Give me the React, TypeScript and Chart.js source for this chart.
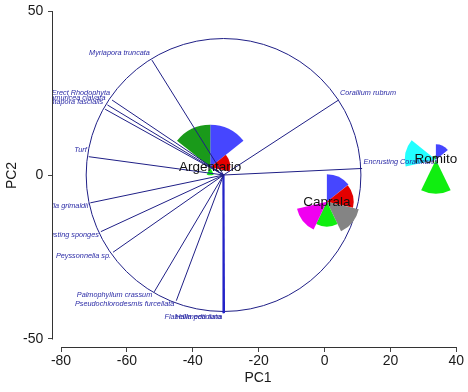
import { useEffect, useRef } from "react";
import { Chart, registerables } from "chart.js";

Chart.register(...registerables);

// ---- axes ----
const xTickValues = [-80, -60, -40, -20, 0, 20, 40];
const yTickValues = [-50, 0, 50];
const xAxisTitle = "PC1";
const yAxisTitle = "PC2";

// ---- biplot (correlation circle) ----
const biplotOrigin = [-30.66, 0.0];
const circleRadius = 41.7;
const speciesNames = [
  "Myriapora truncata",
  "Erect Rhodophyta",
  "Paramuricea clavata",
  "Pentapora fascialis",
  "Turf",
  "Reteporella grimaldii",
  "Encrusting sponges",
  "Peyssonnelia sp.",
  "Palmophyllum crassum",
  "Pseudochlorodesmis furcellata",
  "Flabellia petiolata",
  "Halimeda tuna",
  "Corallium rubrum",
  "Encrusting Corallinales",
];
const loadingX = [-52.4, -64.5, -65.9, -66.6, -71.6, -71.1, -67.9, -64.2, -51.7, -45.0, -30.75, -30.45, 4.25, 11.4];
const loadingY = [35.1, 22.9, 21.4, 20.1, 5.6, -8.5, -17.3, -23.6, -35.7, -38.4, -42.2, -42.2, 22.9, 2.0];

// ---- sites (segment glyphs) ----
const siteNames = ["Argentario", "Caprala", "Romito"];
const siteX = [-34.7, 0.7, 33.8];
const siteY = [2.4, -8.2, 4.7];
const glyphMaxRadius = 12.9;
const segBlue = [1.0, 0.65, 0.36];
const segRed = [0.47, 0.63, 0];
const segGray = [0, 0.77, 0];
const segLime = [0.19, 0.58, 0.8];
const segMagenta = [0, 0.72, 0];
const segCyan = [0, 0, 0.73];
const segGreen = [1.0, 0, 0.1];
const segmentValues = [segBlue, segRed, segGray, segLime, segMagenta, segCyan, segGreen];
const segmentColors = ["#4646ff", "#e40000", "#848484", "#10ee10", "#f000f0", "#22ffff", "#1a9a1a"];

const FONT = "'Liberation Sans', Arial, Helvetica, sans-serif";
const NAVY = "#1f1f86";
const LABEL_BLUE = "#2b2ba6";

export default function App() {
  const ref = useRef<HTMLCanvasElement>(null);

  useEffect(() => {
    document.body.style.margin = "0";
    const canvas = ref.current;
    if (!canvas) return;

    const biplotPlugin = {
      id: "biplotGlyphs",
      beforeDatasetsDraw(chart: any) {
        const { ctx, chartArea, scales } = chart;
        const x = scales.x;
        const y = scales.y;
        ctx.save();
        ctx.beginPath();
        ctx.rect(chartArea.left, chartArea.top, chartArea.right - chartArea.left, chartArea.bottom - chartArea.top);
        ctx.clip();
        // circle
        const cx = x.getPixelForValue(biplotOrigin[0]);
        const cy = y.getPixelForValue(biplotOrigin[1]);
        const rx = Math.abs(x.getPixelForValue(biplotOrigin[0] + circleRadius) - cx);
        const ry = Math.abs(y.getPixelForValue(biplotOrigin[1] + circleRadius) - cy);
        ctx.beginPath();
        ctx.ellipse(cx, cy, rx, ry, 0, 0, Math.PI * 2);
        ctx.strokeStyle = NAVY;
        ctx.lineWidth = 1;
        ctx.stroke();
        // glyphs
        const unit = Math.abs(x.getPixelForValue(glyphMaxRadius) - x.getPixelForValue(0));
        const n = segmentValues.length;
        const step = 360 / n;
        for (let i = 0; i < siteNames.length; i++) {
          const px = x.getPixelForValue(siteX[i]);
          const py = y.getPixelForValue(siteY[i]);
          for (let k = 0; k < n; k++) {
            const v = segmentValues[k][i];
            if (!v) continue;
            const r = v * unit;
            const a0 = ((90 - k * step) * Math.PI) / 180;
            const a1 = ((90 - (k + 1) * step) * Math.PI) / 180;
            ctx.beginPath();
            ctx.moveTo(px, py);
            ctx.arc(px, py, r, -a0, -a1, false);
            ctx.closePath();
            ctx.fillStyle = segmentColors[k];
            ctx.fill();
          }
        }
        ctx.restore();
      },
      afterDatasetsDraw(chart: any) {
        const { ctx, chartArea, scales } = chart;
        const x = scales.x;
        const y = scales.y;
        ctx.save();
        ctx.beginPath();
        ctx.rect(chartArea.left, chartArea.top, chartArea.right - chartArea.left, chartArea.bottom - chartArea.top);
        ctx.clip();
        const cx = x.getPixelForValue(biplotOrigin[0]);
        const cy = y.getPixelForValue(biplotOrigin[1]);
        ctx.font = `italic 7.3px ${FONT}`;
        ctx.fillStyle = LABEL_BLUE;
        ctx.textBaseline = "middle";
        for (let i = 0; i < speciesNames.length; i++) {
          const px = x.getPixelForValue(loadingX[i]);
          const py = y.getPixelForValue(loadingY[i]);
          const left = px - cx < 3;
          const ty = py < cy ? py - 7 : py + 3.5;
          if (left) {
            ctx.textAlign = "right";
            ctx.fillText(speciesNames[i], px - 2, ty);
          } else {
            ctx.textAlign = "left";
            ctx.fillText(speciesNames[i], px + 1.5, ty);
          }
        }
        // site labels
        ctx.font = `13.5px ${FONT}`;
        ctx.fillStyle = "#111";
        ctx.textAlign = "center";
        ctx.textBaseline = "middle";
        for (let i = 0; i < siteNames.length; i++) {
          ctx.fillText(siteNames[i], x.getPixelForValue(siteX[i]), y.getPixelForValue(siteY[i]));
        }
        ctx.restore();
      },
      afterDraw(chart: any) {
        const { ctx, chartArea, scales } = chart;
        const x = scales.x;
        const y = scales.y;
        ctx.save();
        ctx.strokeStyle = "#333";
        ctx.lineWidth = 1;
        const by = Math.round(chartArea.bottom) + 0.5;
        ctx.beginPath();
        ctx.moveTo(Math.round(x.getPixelForValue(xTickValues[0])) + 0.5, by);
        ctx.lineTo(Math.round(x.getPixelForValue(xTickValues[xTickValues.length - 1])) + 0.5, by);
        ctx.stroke();
        const lx = Math.round(chartArea.left) - 0.5;
        ctx.beginPath();
        ctx.moveTo(lx, Math.round(y.getPixelForValue(yTickValues[0])) + 0.5);
        ctx.lineTo(lx, Math.round(y.getPixelForValue(yTickValues[yTickValues.length - 1])) + 0.5);
        ctx.stroke();
        ctx.restore();
      },
    };

    const datasets = speciesNames.map((name, i) => ({
      label: name,
      data: [
        { x: biplotOrigin[0], y: biplotOrigin[1] },
        { x: loadingX[i], y: loadingY[i] },
      ],
      showLine: true,
      borderColor: i === 10 || i === 11 ? "#2323c8" : NAVY,
      borderWidth: i === 10 || i === 11 ? 1.6 : 1,
      pointRadius: 0,
      fill: false,
    }));

    const chart = new Chart(canvas, {
      type: "scatter",
      data: { datasets },
      options: {
        animation: false,
        responsive: false,
        devicePixelRatio: 1,
        layout: { padding: { left: 0, right: 5, top: 4, bottom: 0 } },
        plugins: { legend: { display: false }, tooltip: { enabled: false } },
        scales: {
          x: {
            type: "linear",
            min: -82.43,
            max: 42.03,
            afterBuildTicks: (s: any) => {
              s.ticks = xTickValues.map((v) => ({ value: v }));
            },
            afterFit: (s: any) => {
              s.height = 45;
              s.paddingLeft = 0;
              s.paddingRight = 0;
              s.paddingTop = 0;
              s.paddingBottom = 0;
            },
            grid: { drawOnChartArea: false, drawTicks: true, tickLength: 5, color: "#444" },
            border: { display: false },
            ticks: {
              padding: 1,
              color: "#1a1a1a",
              font: { size: 14, family: FONT },
              maxRotation: 0,
              autoSkip: false,
              callback: (v: any) => String(v),
            },
            title: {
              display: true,
              text: xAxisTitle,
              color: "#1a1a1a",
              font: { size: 14, family: FONT },
              padding: { top: 0, bottom: 5.3 },
            },
          },
          y: {
            type: "linear",
            min: -52.55,
            max: 52.25,
            afterBuildTicks: (s: any) => {
              s.ticks = yTickValues.map((v) => ({ value: v }));
            },
            afterFit: (s: any) => {
              s.width = 53;
              s.paddingLeft = 0;
              s.paddingRight = 0;
              s.paddingTop = 0;
              s.paddingBottom = 0;
            },
            grid: { drawOnChartArea: false, drawTicks: true, tickLength: 5, color: "#444" },
            border: { display: false },
            ticks: {
              padding: 4.7,
              color: "#1a1a1a",
              font: { size: 14, family: FONT },
              autoSkip: false,
              callback: (v: any) => String(v),
            },
            title: {
              display: true,
              text: yAxisTitle,
              color: "#1a1a1a",
              font: { size: 14, family: FONT },
              padding: { top: 3.3, bottom: 0 },
            },
          },
        },
      },
      plugins: [biplotPlugin],
    });

    return () => chart.destroy();
  }, []);

  return (
    <div style={{ position: "absolute", left: 0, top: 0, width: 468, height: 392, background: "#fff" }}>
      <canvas ref={ref} width={468} height={392} style={{ display: "block", width: 468, height: 392 }} />
    </div>
  );
}
